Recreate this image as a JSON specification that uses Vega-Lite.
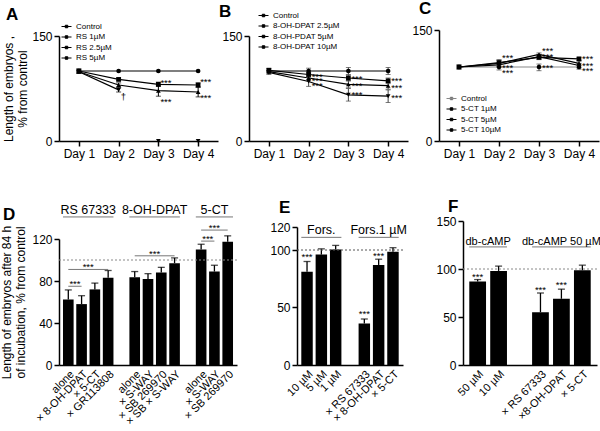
{
"$schema": "https://vega.github.io/schema/vega-lite/v6.json",
"padding": {"left": 0, "top": 0, "right": 0, "bottom": 0},
"config": {
 "font": "Liberation Sans",
 "view": {"stroke": null},
 "axis": {"grid": false, "domainColor": "#000", "tickColor": "#000", "labelColor": "#000", "titleColor": "#000", "domainWidth": 1.5, "tickWidth": 1.5, "tickSize": 5, "labelFontSize": 12, "titleFontSize": 12, "titleFontWeight": "normal", "labelFont": "Liberation Sans", "titleFont": "Liberation Sans", "labelOverlap": false},
 "title": {"fontSize": 17, "fontWeight": "bold", "anchor": "start", "frame": "bounds", "font": "Liberation Sans", "color": "#000", "offset": 6},
 "legend": {"labelFont": "Liberation Sans", "labelColor": "#000", "title": null, "orient": "none", "labelFontSize": 8, "symbolType": "M-1,0H1M-0.25,-0.25H0.25V0.25H-0.25Z", "symbolSize": 100, "symbolStrokeWidth": 1, "symbolStrokeColor": "#000", "symbolFillColor": "#000", "rowPadding": 0.5, "labelOffset": 4},
 "text": {"font": "Liberation Sans", "color": "#000"}
},
"datasets": {
 "A": [
  {"day":"Day 1","series":"Control","value":100},
  {"day":"Day 2","series":"Control","value":100},
  {"day":"Day 3","series":"Control","value":100},
  {"day":"Day 4","series":"Control","value":100},
  {"day":"Day 1","series":"RS 1µM","value":100,"lo":97,"hi":103},
  {"day":"Day 2","series":"RS 1µM","value":88,"lo":86,"hi":90},
  {"day":"Day 3","series":"RS 1µM","value":81,"lo":78,"hi":84},
  {"day":"Day 4","series":"RS 1µM","value":80,"lo":77,"hi":83},
  {"day":"Day 1","series":"RS 2.5µM","value":99,"lo":97,"hi":101},
  {"day":"Day 2","series":"RS 2.5µM","value":80,"lo":77,"hi":83},
  {"day":"Day 3","series":"RS 2.5µM","value":72,"lo":64,"hi":79},
  {"day":"Day 4","series":"RS 2.5µM","value":70,"lo":63,"hi":77},
  {"day":"Day 1","series":"RS 5µM","value":99},
  {"day":"Day 2","series":"RS 5µM","value":73,"lo":70,"hi":76},
  {"day":"Day 3","series":"RS 5µM","value":0},
  {"day":"Day 4","series":"RS 5µM","value":0}
 ],
 "Atxt": [
  {"day":"Day 3","value":83,"label":"***"},
  {"day":"Day 3","value":56,"label":"***"},
  {"day":"Day 4","value":84,"label":"***"},
  {"day":"Day 4","value":61,"label":"***"},
  {"day":"Day 2","value":63,"label":"†"}
 ],
 "B": [
  {"day":"Day 1","series":"Control","value":100,"lo":97,"hi":103},
  {"day":"Day 2","series":"Control","value":100,"lo":96,"hi":104},
  {"day":"Day 3","series":"Control","value":100,"lo":95,"hi":105},
  {"day":"Day 4","series":"Control","value":100,"lo":95,"hi":105},
  {"day":"Day 1","series":"8-OH-DPAT 2.5µM","value":101,"lo":98,"hi":104},
  {"day":"Day 2","series":"8-OH-DPAT 2.5µM","value":95,"lo":92,"hi":98},
  {"day":"Day 3","series":"8-OH-DPAT 2.5µM","value":90,"lo":86,"hi":94},
  {"day":"Day 4","series":"8-OH-DPAT 2.5µM","value":86,"lo":82,"hi":90},
  {"day":"Day 1","series":"8-OH-PDAT 5µM","value":99},
  {"day":"Day 2","series":"8-OH-PDAT 5µM","value":90,"lo":86,"hi":94},
  {"day":"Day 3","series":"8-OH-PDAT 5µM","value":81,"lo":76,"hi":86},
  {"day":"Day 4","series":"8-OH-PDAT 5µM","value":79,"lo":74,"hi":84},
  {"day":"Day 1","series":"8-OH-DPAT 10µM","value":98,"lo":95,"hi":101},
  {"day":"Day 2","series":"8-OH-DPAT 10µM","value":85,"lo":78,"hi":91},
  {"day":"Day 3","series":"8-OH-DPAT 10µM","value":66,"lo":57,"hi":75},
  {"day":"Day 4","series":"8-OH-DPAT 10µM","value":64,"lo":55,"hi":73}
 ],
 "Btxt": [
  {"day":"Day 2","value":91,"label":"***"},
  {"day":"Day 2","value":85.5,"label":"***"},
  {"day":"Day 2","value":78.5,"label":"***"},
  {"day":"Day 3","value":88,"label":"***"},
  {"day":"Day 3","value":79,"label":"***"},
  {"day":"Day 3","value":66,"label":"***"},
  {"day":"Day 4","value":85.5,"label":"***"},
  {"day":"Day 4","value":76,"label":"***"},
  {"day":"Day 4","value":62,"label":"***"}
 ],
 "C": [
  {"day":"Day 1","series":"Control","value":100,"lo":97,"hi":103},
  {"day":"Day 2","series":"Control","value":100,"lo":96,"hi":104},
  {"day":"Day 3","series":"Control","value":100,"lo":95,"hi":104},
  {"day":"Day 4","series":"Control","value":100,"lo":97,"hi":103},
  {"day":"Day 1","series":"5-CT 1µM","value":100},
  {"day":"Day 2","series":"5-CT 1µM","value":106,"lo":103,"hi":109},
  {"day":"Day 3","series":"5-CT 1µM","value":113,"lo":110,"hi":116},
  {"day":"Day 4","series":"5-CT 1µM","value":111,"lo":109,"hi":113},
  {"day":"Day 1","series":"5-CT 5µM","value":100},
  {"day":"Day 2","series":"5-CT 5µM","value":105,"lo":101,"hi":110},
  {"day":"Day 3","series":"5-CT 5µM","value":117,"lo":115,"hi":119},
  {"day":"Day 4","series":"5-CT 5µM","value":105,"lo":102,"hi":108},
  {"day":"Day 1","series":"5-CT 10µM","value":100},
  {"day":"Day 2","series":"5-CT 10µM","value":103,"lo":100,"hi":106},
  {"day":"Day 3","series":"5-CT 10µM","value":114,"lo":111,"hi":117},
  {"day":"Day 4","series":"5-CT 10µM","value":102,"lo":99,"hi":105}
 ],
 "Ctxt": [
  {"day":"Day 2","value":112,"label":"***"},
  {"day":"Day 2","value":99,"label":"***"},
  {"day":"Day 2","value":92,"label":"***"},
  {"day":"Day 3","value":122,"label":"***"},
  {"day":"Day 3","value":113,"label":"***"},
  {"day":"Day 3","value":99,"label":"***"},
  {"day":"Day 4","value":111,"label":"***"},
  {"day":"Day 4","value":101,"label":"***"},
  {"day":"Day 4","value":95,"label":"***"}
 ],
 "D": [
  {"cat":"alone","value":62.5,"hi":71.5},
  {"cat":"× 8-OH-DPAT","value":58,"hi":66},
  {"cat":"× 5-CT","value":72,"hi":78},
  {"cat":"× GR113808","value":83,"hi":90},
  {"cat":" alone","value":83.5,"hi":89},
  {"cat":"× S-WAY","value":82,"hi":87},
  {"cat":"× SB 269970","value":88,"hi":93},
  {"cat":"× SB × S-WAY","value":97,"hi":102},
  {"cat":"  alone","value":110,"hi":115},
  {"cat":" × S-WAY","value":89,"hi":95},
  {"cat":" × SB 269970","value":117.5,"hi":123}
 ],
 "Dann": [
  {"kind":"br","from":"alone","to":"× 8-OH-DPAT","value":75},
  {"kind":"br","from":"alone","to":"× GR113808","value":91},
  {"kind":"br","from":" alone","to":"× SB × S-WAY","value":104},
  {"kind":"br","from":"  alone","to":" × S-WAY","value":118},
  {"kind":"br","from":"  alone","to":" × SB 269970","value":128.5},
  {"kind":"ul","from":"alone","to":"× GR113808","value":141},
  {"kind":"ul","from":" alone","to":"× SB × S-WAY","value":141},
  {"kind":"ul","from":"  alone","to":" × SB 269970","value":141}
 ],
 "Dtxt": [
  {"kind":"star","pos":"mid","cat":"alone","value":75,"label":"***"},
  {"kind":"star","pos":"mid","cat":"× 8-OH-DPAT","value":91,"label":"***"},
  {"kind":"star","pos":"mid","cat":"× S-WAY","value":104,"label":"***"},
  {"kind":"star","pos":"mid","cat":"  alone","value":118,"label":"***"},
  {"kind":"star","pos":"bar","cat":" × S-WAY","value":128.5,"label":"***"},
  {"kind":"head","pos":"mid","cat":"× 8-OH-DPAT","value":144,"label":"RS 67333"},
  {"kind":"head","pos":"mid","cat":"× S-WAY","value":144,"label":"8-OH-DPAT"},
  {"kind":"head","pos":"bar","cat":" × S-WAY","value":144,"label":"5-CT"}
 ],
 "E": [
  {"cat":"10 µM","value":81,"hi":90},
  {"cat":"5 µM","value":96,"hi":101},
  {"cat":"1 µM","value":100.5,"hi":104},
  {"cat":"× RS 67333","value":36,"hi":40},
  {"cat":"× 8-OH-DPAT","value":87,"hi":92},
  {"cat":"× 5-CT","value":98.5,"hi":102}
 ],
 "Eann": [
  {"kind":"ul","from":"10 µM","to":"1 µM","value":111},
  {"kind":"ul","from":"× RS 67333","to":"× 5-CT","value":111}
 ],
 "Etxt": [
  {"kind":"star","pos":"bar","cat":"10 µM","value":92,"label":"***"},
  {"kind":"star","pos":"bar","cat":"× RS 67333","value":43,"label":"***"},
  {"kind":"star","pos":"bar","cat":"× 8-OH-DPAT","value":93,"label":"***"},
  {"kind":"head","pos":"bar","cat":"5 µM","value":114,"label":"Fors."},
  {"kind":"head","pos":"bar","cat":"× 8-OH-DPAT","value":114,"label":"Fors.1 µM"}
 ],
 "F": [
  {"cat":"50 µM","value":87,"hi":89},
  {"cat":"10 µM","value":98,"hi":103},
  {"cat":"× RS 67333","value":55,"hi":75},
  {"cat":"×8-OH-DPAT","value":69,"hi":79},
  {"cat":"× 5-CT","value":98.6,"hi":104}
 ],
 "Fann": [
  {"kind":"ul","from":"50 µM","to":"10 µM","value":123},
  {"kind":"ul","from":"× RS 67333","to":"× 5-CT","value":123}
 ],
 "Ftxt": [
  {"kind":"star","pos":"bar","cat":"50 µM","value":90,"label":"***"},
  {"kind":"star","pos":"bar","cat":"× RS 67333","value":76,"label":"***"},
  {"kind":"star","pos":"bar","cat":"×8-OH-DPAT","value":81,"label":"***"},
  {"kind":"head","pos":"mid","cat":"50 µM","value":125.5,"label":"db-cAMP"},
  {"kind":"head","pos":"bar","cat":"×8-OH-DPAT","value":125.5,"label":"db-cAMP 50 µM"}
 ]
},
"spacing": 38,
"vconcat": [
 {
  "hconcat": [
   {
    "width": 159, "height": 111,
    "title": {"text": "A", "dx": 3, "offset": -3},
    "layer": [
     {"data": {"name": "A"}, "transform": [{"filter": "datum.value > 0"}],
      "mark": {"type": "line", "strokeWidth": 1.2},
      "encoding": {
       "x": {"field": "day", "type": "ordinal", "scale": {"type": "point", "padding": 0.5}, "axis": {"title": null, "labelAngle": 0, "labelPadding": 2}},
       "y": {"field": "value", "type": "quantitative", "scale": {"domain": [0,150], "range": [111,6], "nice": false}, "axis": {"title": ["Length of embryos ,", "% from control"], "values": [0,50,100,150], "titlePadding": 2}},
       "color": {"field": "series", "type": "nominal", "scale": {"domain": ["Control", "RS 1µM", "RS 2.5µM", "RS 5µM"], "range": ["#000", "#000", "#000", "#000"]}, "legend": {"legendX": 2, "legendY": -9, "symbolType": "M-1,0H1M-0.25,-0.25H0.25V0.25H-0.25Z"}}}},
     {"data": {"name": "A"}, "transform": [{"filter": "datum.hi > datum.lo"}],
      "mark": {"type": "rule", "color": "#000", "strokeWidth": 1},
      "encoding": {"x": {"field": "day", "type": "ordinal"}, "y": {"field": "lo", "type": "quantitative"}, "y2": {"field": "hi"}}},
     {"data": {"name": "A"}, "transform": [{"filter": "datum.hi > datum.lo"}],
      "mark": {"type": "tick", "color": "#000", "size": 5, "thickness": 1},
      "encoding": {"x": {"field": "day", "type": "ordinal"}, "y": {"field": "lo", "type": "quantitative"}}},
     {"data": {"name": "A"}, "transform": [{"filter": "datum.hi > datum.lo"}],
      "mark": {"type": "tick", "color": "#000", "size": 5, "thickness": 1},
      "encoding": {"x": {"field": "day", "type": "ordinal"}, "y": {"field": "hi", "type": "quantitative"}}},
     {"data": {"name": "A"},
      "mark": {"type": "point", "filled": true, "size": 22, "opacity": 1, "color": "#000"},
      "encoding": {"x": {"field": "day", "type": "ordinal"}, "y": {"field": "value", "type": "quantitative"},
       "shape": {"condition": [{"test": "datum.series === 'RS 1µM'", "value": "square"}, {"test": "datum.series === 'RS 2.5µM'", "value": "triangle-up"}, {"test": "datum.series === 'RS 5µM'", "value": "triangle-down"}], "value": "circle"}}},
     {"data": {"name": "Atxt"},
      "mark": {"type": "text", "align": "left", "dx": 2, "fontSize": 9.5},
      "encoding": {"x": {"field": "day", "type": "ordinal"}, "y": {"field": "value", "type": "quantitative"}, "text": {"field": "label"}}}
    ]
   },
   {
    "width": 159, "height": 111,
    "title": {"text": "B", "dx": -3, "offset": -11},
    "layer": [
     {"data": {"name": "B"},
      "mark": {"type": "line", "strokeWidth": 1.2},
      "encoding": {
       "x": {"field": "day", "type": "ordinal", "scale": {"type": "point", "padding": 0.5}, "axis": {"title": null, "labelAngle": 0, "labelPadding": 2}},
       "y": {"field": "value", "type": "quantitative", "scale": {"domain": [0,150], "range": [111,6], "nice": false}, "axis": {"title": null, "values": [0,50,100,150]}},
       "color": {"field": "series", "type": "nominal", "scale": {"domain": ["Control", "8-OH-DPAT 2.5µM", "8-OH-PDAT 5µM", "8-OH-DPAT 10µM"], "range": ["#000", "#000", "#000", "#000"]}, "legend": {"legendX": 9, "legendY": -20, "symbolType": "M-1,0H1M-0.25,-0.25H0.25V0.25H-0.25Z"}}}},
     {"data": {"name": "B"}, "transform": [{"filter": "datum.hi > datum.lo"}],
      "mark": {"type": "rule", "color": "#444", "strokeWidth": 1},
      "encoding": {"x": {"field": "day", "type": "ordinal"}, "y": {"field": "lo", "type": "quantitative"}, "y2": {"field": "hi"}}},
     {"data": {"name": "B"}, "transform": [{"filter": "datum.hi > datum.lo"}],
      "mark": {"type": "tick", "color": "#444", "size": 5, "thickness": 1},
      "encoding": {"x": {"field": "day", "type": "ordinal"}, "y": {"field": "lo", "type": "quantitative"}}},
     {"data": {"name": "B"}, "transform": [{"filter": "datum.hi > datum.lo"}],
      "mark": {"type": "tick", "color": "#444", "size": 5, "thickness": 1},
      "encoding": {"x": {"field": "day", "type": "ordinal"}, "y": {"field": "hi", "type": "quantitative"}}},
     {"data": {"name": "B"},
      "mark": {"type": "point", "filled": true, "size": 22, "opacity": 1, "color": "#000"},
      "encoding": {"x": {"field": "day", "type": "ordinal"}, "y": {"field": "value", "type": "quantitative"},
       "shape": {"condition": [{"test": "datum.series === '8-OH-DPAT 2.5µM'", "value": "square"}, {"test": "datum.series === '8-OH-PDAT 5µM'", "value": "triangle-up"}, {"test": "datum.series === '8-OH-DPAT 10µM'", "value": "triangle-down"}], "value": "circle"}}},
     {"data": {"name": "Btxt"},
      "mark": {"type": "text", "align": "left", "dx": 3, "fontSize": 9.5},
      "encoding": {"x": {"field": "day", "type": "ordinal"}, "y": {"field": "value", "type": "quantitative"}, "text": {"field": "label"}}}
    ]
   },
   {
    "width": 160, "height": 111,
    "title": {"text": "C", "dx": 7, "offset": 6},
    "layer": [
     {"data": {"name": "C"},
      "mark": {"type": "line", "strokeWidth": 1.2},
      "encoding": {
       "x": {"field": "day", "type": "ordinal", "scale": {"type": "point", "padding": 0.5}, "axis": {"title": null, "labelAngle": 0, "labelPadding": 2}},
       "y": {"field": "value", "type": "quantitative", "scale": {"domain": [0,150], "range": [111,0], "nice": false}, "axis": {"title": null, "values": [0,50,100,150]}},
       "color": {"field": "series", "type": "nominal", "scale": {"domain": ["Control", "5-CT 1µM", "5-CT 5µM", "5-CT 10µM"], "range": ["#888", "#000", "#000", "#000"]}, "legend": {"legendX": 7, "legendY": 63, "symbolType": "M-1,0H1M-0.25,-0.25H0.25V0.25H-0.25Z"}}}},
     {"data": {"name": "C"}, "transform": [{"filter": "datum.hi > datum.lo"}],
      "mark": {"type": "rule", "color": "#444", "strokeWidth": 1},
      "encoding": {"x": {"field": "day", "type": "ordinal"}, "y": {"field": "lo", "type": "quantitative"}, "y2": {"field": "hi"}}},
     {"data": {"name": "C"}, "transform": [{"filter": "datum.hi > datum.lo"}],
      "mark": {"type": "tick", "color": "#444", "size": 5, "thickness": 1},
      "encoding": {"x": {"field": "day", "type": "ordinal"}, "y": {"field": "lo", "type": "quantitative"}}},
     {"data": {"name": "C"}, "transform": [{"filter": "datum.hi > datum.lo"}],
      "mark": {"type": "tick", "color": "#444", "size": 5, "thickness": 1},
      "encoding": {"x": {"field": "day", "type": "ordinal"}, "y": {"field": "hi", "type": "quantitative"}}},
     {"data": {"name": "C"},
      "mark": {"type": "point", "filled": true, "size": 22, "opacity": 1, "color": "#000"},
      "encoding": {"x": {"field": "day", "type": "ordinal"}, "y": {"field": "value", "type": "quantitative"},
       "shape": {"condition": [{"test": "datum.series === '5-CT 1µM'", "value": "square"}, {"test": "datum.series === '5-CT 5µM'", "value": "triangle-up"}, {"test": "datum.series === '5-CT 10µM'", "value": "triangle-down"}], "value": "circle"}}},
     {"data": {"name": "Ctxt"},
      "mark": {"type": "text", "align": "left", "dx": 3, "fontSize": 9.5},
      "encoding": {"x": {"field": "day", "type": "ordinal"}, "y": {"field": "value", "type": "quantitative"}, "text": {"field": "label"}}}
    ]
   }
  ],
  "spacing": 31, "bounds": "flush",
  "resolve": {"scale": {"color": "independent", "x": "independent", "y": "independent"}, "legend": {"color": "independent"}}
 },
 {
  "hconcat": [
   {
    "width": 178, "height": 144,
    "title": {"text": "D", "dx": 2, "offset": -20},
    "layer": [
     {"data": {"name": "D"},
      "mark": {"type": "bar", "color": "#000"},
      "encoding": {
       "x": {"field": "cat", "type": "nominal", "scale": {"domain": ["alone", "× 8-OH-DPAT", "× 5-CT", "× GR113808", "   ", " alone", "× S-WAY", "× SB 269970", "× SB × S-WAY", "    ", "  alone", " × S-WAY", " × SB 269970"], "paddingInner": 0.2, "paddingOuter": 0.3}, "axis": {"title": null, "ticks": false, "labelAngle": -45, "labelFontSize": 11, "labelPadding": 3}},
       "y": {"field": "value", "type": "quantitative", "scale": {"domain": [0,120], "range": [144,18], "nice": false}, "axis": {"title": ["Length of embryos after 84 h", "of incubation, % from control"], "values": [0,20,40,60,80,100,120], "titlePadding": 4}}}},
     {"data": {"name": "D"},
      "mark": {"type": "rule", "color": "#000", "strokeWidth": 1.3},
      "encoding": {"x": {"field": "cat", "type": "nominal"}, "y": {"field": "value", "type": "quantitative"}, "y2": {"field": "hi"}}},
     {"data": {"name": "D"},
      "mark": {"type": "tick", "color": "#000", "size": 7, "thickness": 1.3},
      "encoding": {"x": {"field": "cat", "type": "nominal"}, "y": {"field": "hi", "type": "quantitative"}}},
     {"data": {"values": [{}]},
      "mark": {"type": "rule", "color": "#888", "strokeDash": [2,2], "strokeWidth": 1},
      "encoding": {"y": {"datum": 100, "type": "quantitative"}}},
     {"data": {"name": "Dann"}, "transform": [{"filter": "datum.kind === 'br'"}],
      "mark": {"type": "rule", "color": "#777", "strokeWidth": 1},
      "encoding": {"x": {"field": "from", "type": "nominal", "bandPosition": 0.5}, "x2": {"field": "to", "bandPosition": 0.5}, "y": {"field": "value", "type": "quantitative"}}},
     {"data": {"name": "Dann"}, "transform": [{"filter": "datum.kind === 'ul'"}],
      "mark": {"type": "rule", "color": "#777", "strokeWidth": 1},
      "encoding": {"x": {"field": "from", "type": "nominal", "bandPosition": 0}, "x2": {"field": "to", "bandPosition": 1}, "y": {"field": "value", "type": "quantitative"}}},
     {"data": {"name": "Dtxt"}, "transform": [{"filter": "datum.kind === 'star' && datum.pos === 'mid'"}],
      "mark": {"type": "text", "fontSize": 9.5, "baseline": "alphabetic", "dy": 1},
      "encoding": {"x": {"field": "cat", "type": "nominal", "bandPosition": 1.125}, "y": {"field": "value", "type": "quantitative"}, "text": {"field": "label"}}},
     {"data": {"name": "Dtxt"}, "transform": [{"filter": "datum.kind === 'star' && datum.pos === 'bar'"}],
      "mark": {"type": "text", "fontSize": 9.5, "baseline": "alphabetic", "dy": 1},
      "encoding": {"x": {"field": "cat", "type": "nominal", "bandPosition": 0.5}, "y": {"field": "value", "type": "quantitative"}, "text": {"field": "label"}}},
     {"data": {"name": "Dtxt"}, "transform": [{"filter": "datum.kind === 'head' && datum.pos === 'mid'"}],
      "mark": {"type": "text", "fontSize": 12.5, "baseline": "alphabetic"},
      "encoding": {"x": {"field": "cat", "type": "nominal", "bandPosition": 1.125}, "y": {"field": "value", "type": "quantitative"}, "text": {"field": "label"}}},
     {"data": {"name": "Dtxt"}, "transform": [{"filter": "datum.kind === 'head' && datum.pos === 'bar'"}],
      "mark": {"type": "text", "fontSize": 12.5, "baseline": "alphabetic"},
      "encoding": {"x": {"field": "cat", "type": "nominal", "bandPosition": 0.5}, "y": {"field": "value", "type": "quantitative"}, "text": {"field": "label"}}}
    ]
   },
   {
    "width": 106, "height": 144,
    "title": {"text": "E", "dx": 9, "offset": 4.5},
    "layer": [
     {"data": {"name": "E"},
      "mark": {"type": "bar", "color": "#000"},
      "encoding": {
       "x": {"field": "cat", "type": "nominal", "scale": {"domain": ["10 µM", "5 µM", "1 µM", "   ", "× RS 67333", "× 8-OH-DPAT", "× 5-CT"], "paddingInner": 0.2, "paddingOuter": 0.3}, "axis": {"title": null, "ticks": false, "labelAngle": -45, "labelFontSize": 11, "labelPadding": 3}},
       "y": {"field": "value", "type": "quantitative", "scale": {"domain": [0,120], "range": [144,6], "nice": false}, "axis": {"title": null, "values": [0,50,100,120]}}}},
     {"data": {"name": "E"},
      "mark": {"type": "rule", "color": "#000", "strokeWidth": 1.3},
      "encoding": {"x": {"field": "cat", "type": "nominal"}, "y": {"field": "value", "type": "quantitative"}, "y2": {"field": "hi"}}},
     {"data": {"name": "E"},
      "mark": {"type": "tick", "color": "#000", "size": 7, "thickness": 1.3},
      "encoding": {"x": {"field": "cat", "type": "nominal"}, "y": {"field": "hi", "type": "quantitative"}}},
     {"data": {"values": [{}]},
      "mark": {"type": "rule", "color": "#555", "strokeDash": [2,2], "strokeWidth": 1},
      "encoding": {"y": {"datum": 100, "type": "quantitative"}}},
     {"data": {"name": "Eann"},
      "mark": {"type": "rule", "color": "#777", "strokeWidth": 1},
      "encoding": {"x": {"field": "from", "type": "nominal", "bandPosition": 0}, "x2": {"field": "to", "bandPosition": 1}, "y": {"field": "value", "type": "quantitative"}}},
     {"data": {"name": "Etxt"}, "transform": [{"filter": "datum.kind === 'star'"}],
      "mark": {"type": "text", "fontSize": 9.5, "baseline": "alphabetic", "dy": 1},
      "encoding": {"x": {"field": "cat", "type": "nominal", "bandPosition": 0.5}, "y": {"field": "value", "type": "quantitative"}, "text": {"field": "label"}}},
     {"data": {"name": "Etxt"}, "transform": [{"filter": "datum.kind === 'head'"}],
      "mark": {"type": "text", "fontSize": 12.5, "baseline": "alphabetic"},
      "encoding": {"x": {"field": "cat", "type": "nominal", "bandPosition": 0.5}, "y": {"field": "value", "type": "quantitative"}, "text": {"field": "label"}}}
    ]
   },
   {
    "width": 134, "height": 144,
    "title": {"text": "F", "dx": 12, "offset": -0.5},
    "layer": [
     {"data": {"name": "F"},
      "mark": {"type": "bar", "color": "#000"},
      "encoding": {
       "x": {"field": "cat", "type": "nominal", "scale": {"domain": ["50 µM", "10 µM", "   ", "× RS 67333", "×8-OH-DPAT", "× 5-CT"], "paddingInner": 0.2, "paddingOuter": 0.3}, "axis": {"title": null, "ticks": false, "labelAngle": -45, "labelFontSize": 11, "labelPadding": 3}},
       "y": {"field": "value", "type": "quantitative", "scale": {"domain": [0,150], "range": [144,0], "nice": false}, "axis": {"title": null, "values": [0,50,100,150]}}}},
     {"data": {"name": "F"},
      "mark": {"type": "rule", "color": "#000", "strokeWidth": 1.3},
      "encoding": {"x": {"field": "cat", "type": "nominal"}, "y": {"field": "value", "type": "quantitative"}, "y2": {"field": "hi"}}},
     {"data": {"name": "F"},
      "mark": {"type": "tick", "color": "#000", "size": 7, "thickness": 1.3},
      "encoding": {"x": {"field": "cat", "type": "nominal"}, "y": {"field": "hi", "type": "quantitative"}}},
     {"data": {"values": [{}]},
      "mark": {"type": "rule", "color": "#888", "strokeDash": [2,2], "strokeWidth": 1},
      "encoding": {"y": {"datum": 100, "type": "quantitative"}}},
     {"data": {"name": "Fann"},
      "mark": {"type": "rule", "color": "#777", "strokeWidth": 1},
      "encoding": {"x": {"field": "from", "type": "nominal", "bandPosition": 0}, "x2": {"field": "to", "bandPosition": 1}, "y": {"field": "value", "type": "quantitative"}}},
     {"data": {"name": "Ftxt"}, "transform": [{"filter": "datum.kind === 'star'"}],
      "mark": {"type": "text", "fontSize": 9.5, "baseline": "alphabetic", "dy": 1},
      "encoding": {"x": {"field": "cat", "type": "nominal", "bandPosition": 0.5}, "y": {"field": "value", "type": "quantitative"}, "text": {"field": "label"}}},
     {"data": {"name": "Ftxt"}, "transform": [{"filter": "datum.kind === 'head' && datum.pos === 'mid'"}],
      "mark": {"type": "text", "fontSize": 11, "baseline": "alphabetic"},
      "encoding": {"x": {"field": "cat", "type": "nominal", "bandPosition": 1.125}, "y": {"field": "value", "type": "quantitative"}, "text": {"field": "label"}}},
     {"data": {"name": "Ftxt"}, "transform": [{"filter": "datum.kind === 'head' && datum.pos === 'bar'"}],
      "mark": {"type": "text", "fontSize": 11, "baseline": "alphabetic"},
      "encoding": {"x": {"field": "cat", "type": "nominal", "bandPosition": 0.5}, "y": {"field": "value", "type": "quantitative"}, "text": {"field": "label"}}}
    ]
   }
  ],
  "spacing": 60, "bounds": "flush"
 }
]
}
